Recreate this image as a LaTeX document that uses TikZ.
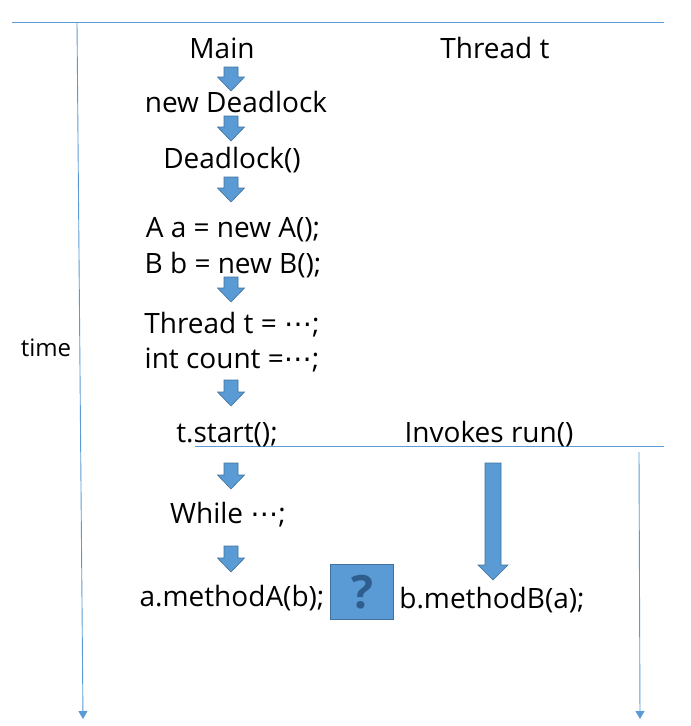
\documentclass[tikz,border=0pt]{standalone}
\usepackage{fontspec}
\usetikzlibrary{arrows.meta}
\setmainfont{Open Sans}
\newfontfamily\dvs{DejaVu Sans}
\definecolor{lineblue}{HTML}{5B9BD5}
\definecolor{fillblue}{HTML}{5B9BD5}
\definecolor{edgeblue}{HTML}{41719C}
\definecolor{qblue}{HTML}{2F5E8E}
\newcommand{\mydots}{{\dvs ⋯}}
\newcommand{\blockarrow}[6]{% x, ytop, ybot, shaft half width, head half width, head length
  \filldraw[blockarr] (#1-#4,#2) -- (#1+#4,#2) -- (#1+#4,#3-#6) -- (#1+#5,#3-#6) -- (#1,#3) -- (#1-#5,#3-#6) -- (#1-#4,#3-#6) -- cycle;}
\begin{document}
\begin{tikzpicture}[x=1pt,y=-1pt,
  txt/.style={font=\fontsize{28}{32}\selectfont, inner sep=0pt, anchor=base},
  axis/.style={draw=lineblue, line width=0.9pt},
  tip/.style={-{Triangle[width=9pt,length=8pt]}},
  blockarr/.style={fill=fillblue, draw=edgeblue, line width=0.6pt}]
\useasboundingbox (0,0) rectangle (691,726);
% axes
\coordinate (tl) at (12,22);
\coordinate (tr) at (664,22);
\coordinate (lt) at (77,22);
\coordinate (lb) at (83,719);
\coordinate (ml) at (195,446);
\coordinate (mr) at (664,446);
\coordinate (rt) at (639,452);
\coordinate (rb) at (640,719);
\draw[axis] (tl) -- (tr);
\draw[axis,tip] (lt) -- (lb);
\draw[axis] (ml) -- (mr);
\draw[axis,tip] (rt) -- (rb);
% texts
\node[txt, font=\fontsize{24}{28}\selectfont] (time) at (46,356) {time};
\node[txt] (main) at (222,58) {Main};
\node[txt] (tht) at (495,58) {Thread t};
\node[txt] (nd) at (236,112) {new Deadlock};
\node[txt] (dl) at (232,168) {Deadlock()};
\node[txt] (aa) at (233,237) {A a = new A();};
\node[txt] (bb) at (233,273) {B b = new B();};
\node[txt] (tt) at (232,333) {Thread t = \mydots;};
\node[txt] (ic) at (232,368) {int count =\mydots;};
\node[txt] (ts) at (227,442) {t.start();};
\node[txt] (ir) at (489,442) {Invokes run()};
\node[txt] (wh) at (228,523) {While \mydots;};
\node[txt] (ma) at (232,606) {a.methodA(b);};
\node[txt] (mb) at (492,608) {b.methodB(a);};
% question box
\node[draw=edgeblue, fill=fillblue, line width=0.8pt, minimum width=63pt, minimum height=55pt, inner sep=0pt,
  font=\bfseries\fontsize{46}{46}\selectfont, text=qblue] (q) at (362,592) {?};
% block arrows
\blockarrow{231}{67}{91}{7}{13.5}{14}
\blockarrow{231}{116}{141}{7}{13.5}{14}
\blockarrow{231}{177}{202}{7}{13.5}{14}
\blockarrow{231}{277}{302}{7}{13.5}{14}
\blockarrow{231}{380}{406}{7}{13.5}{14}
\blockarrow{231}{463}{489}{7}{13.5}{14}
\blockarrow{231}{546}{572}{7}{13.5}{14}
\blockarrow{493}{463}{580}{8}{15}{15}
\end{tikzpicture}
\end{document}
